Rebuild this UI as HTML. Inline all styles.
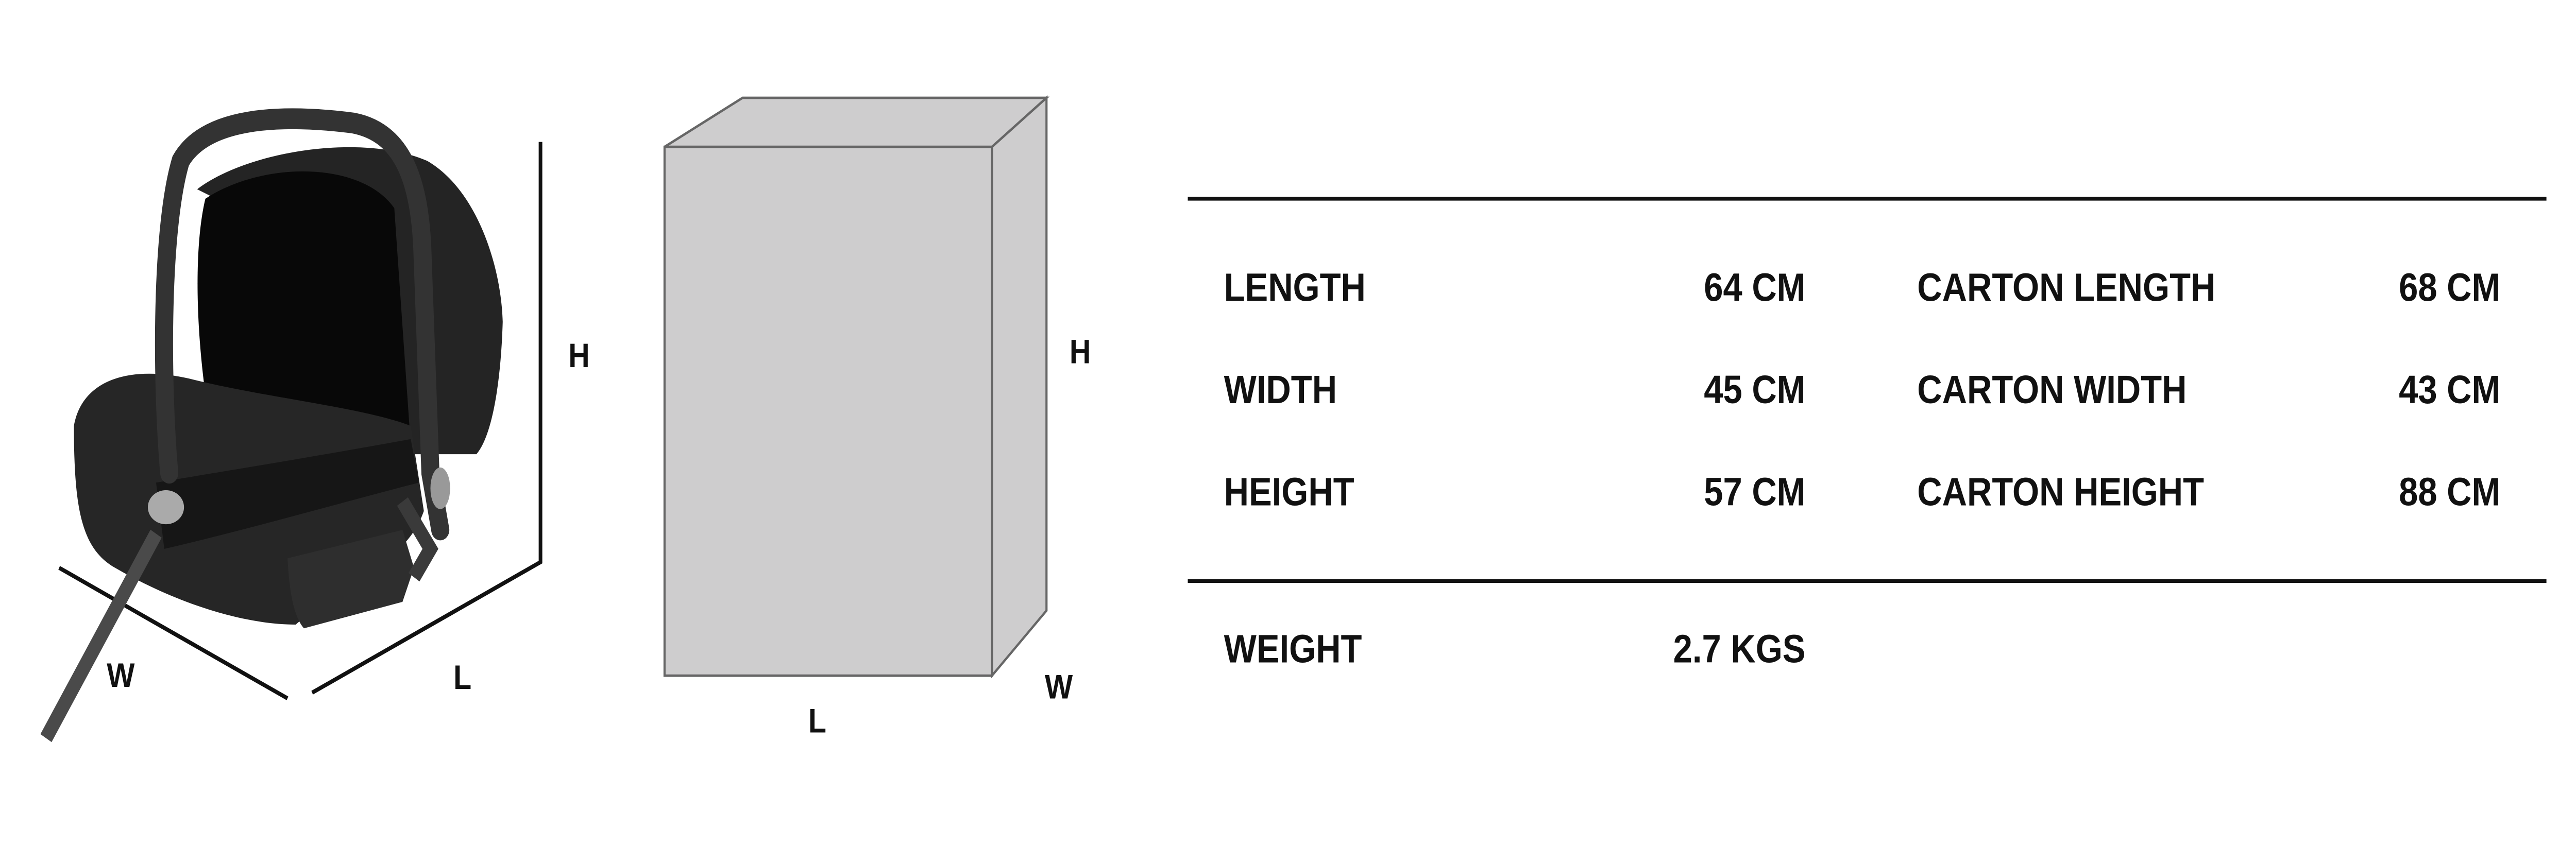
<!DOCTYPE html>
<html><head><meta charset="utf-8"><style>
html,body{margin:0;padding:0;background:#fff;width:100%;height:100%;overflow:hidden;}
svg{display:block;position:absolute;left:0;top:0;width:100vw;height:100vh;}
text{font-family:"Liberation Sans",Arial,sans-serif;font-weight:bold;fill:#111;}
</style></head><body>
<svg viewBox="0 0 1568 447" preserveAspectRatio="none" xmlns="http://www.w3.org/2000/svg">
<g stroke="#111" stroke-width="2.2" fill="none">
<polyline points="329,75 329,297 190,366"/>
<line x1="36" y1="300" x2="175" y2="369"/>
</g>
<g>
<path d="M120,100 C150,80 220,70 260,85 C290,100 305,140 306,170 C305,200 300,230 290,240 L250,240 L235,150 Z" fill="#242424"/>
<path d="M125,105 C160,85 220,85 240,110 L250,235 L130,235 C118,180 118,130 125,105 Z" fill="#080808"/>
<path d="M45,225 C50,200 80,193 115,200 C160,210 220,215 250,225 L258,270 C250,290 230,300 200,315 L180,330 C150,330 110,320 70,300 C50,290 45,270 45,225 Z" fill="#262626"/>
<path d="M175,295 L245,280 L252,300 L245,318 L185,332 C178,325 176,310 175,295 Z" fill="#2e2e2e"/>
<path d="M95,255 C130,250 200,240 250,232 L255,255 C210,265 150,280 100,290 Z" fill="#161616"/>
<path d="M103,250 C98,200 98,120 110,85 C125,62 170,60 215,65 C245,70 255,95 257,130 L262,250 L268,280" stroke="#333" stroke-width="11" fill="none" stroke-linecap="round"/>
<path d="M245,265 L262,290 L252,305" stroke="#3a3a3a" stroke-width="8" fill="none"/>
<ellipse cx="101" cy="268" rx="11" ry="9" fill="#aaa"/>
<ellipse cx="268" cy="258" rx="6" ry="11" fill="#999"/>
<path d="M95,282 L28,390" stroke="#4a4a4a" stroke-width="8"/>
</g>
<text x="346" y="194" font-size="18">H</text>
<text x="276" y="364" font-size="18">L</text>
<text x="65" y="363" font-size="18">W</text>
<g stroke="#666" stroke-width="1.3" fill="#cecdce">
<polygon points="404.5,77.6 452,51.7 637,51.7 603.8,77.6"/>
<polygon points="603.8,77.6 637,51.7 637,322.6 603.8,357"/>
<rect x="404.5" y="77.6" width="199.3" height="279.4"/>
</g>
<text x="651" y="192" font-size="18">H</text>
<text x="492" y="387" font-size="18">L</text>
<text x="636" y="369" font-size="18">W</text>
<line x1="723" y1="105" x2="1550" y2="105" stroke="#111" stroke-width="2"/>
<line x1="723" y1="307" x2="1550" y2="307" stroke="#111" stroke-width="2"/>
<g font-size="21">
<text x="745" y="159">LENGTH</text>
<text x="1099" y="159" text-anchor="end">64 CM</text>
<text x="1167" y="159">CARTON LENGTH</text>
<text x="1522" y="159" text-anchor="end">68 CM</text>
<text x="745" y="213">WIDTH</text>
<text x="1099" y="213" text-anchor="end">45 CM</text>
<text x="1167" y="213">CARTON WIDTH</text>
<text x="1522" y="213" text-anchor="end">43 CM</text>
<text x="745" y="267">HEIGHT</text>
<text x="1099" y="267" text-anchor="end">57 CM</text>
<text x="1167" y="267">CARTON HEIGHT</text>
<text x="1522" y="267" text-anchor="end">88 CM</text>
<text x="745" y="350">WEIGHT</text>
<text x="1099" y="350" text-anchor="end">2.7 KGS</text>
</g>
</svg>
</body></html>
